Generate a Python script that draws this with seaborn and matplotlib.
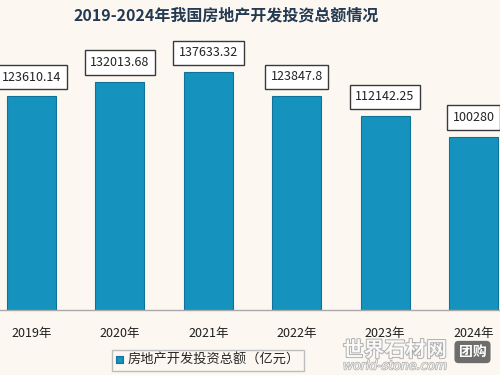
import matplotlib
matplotlib.use("Agg")
import matplotlib.pyplot as plt
import matplotlib.patheffects as pe
import seaborn as sns
import pandas as pd

years = ["2019年", "2020年", "2021年", "2022年", "2023年", "2024年"]
invest = [123610.14, 132013.68, 137633.32, 123847.8, 112142.25, 100280]
labels = ["123610.14", "132013.68", "137633.32", "123847.8", "112142.25", "100280"]
series_name = "房地产开发投资总额（亿元）"
title = "2019-2024年我国房地产开发投资总额情况"

sns.set_style("white")
plt.rcParams['font.family'] = ['Noto Sans CJK SC', 'DejaVu Sans']

bg = "#fcf8f1"
bar_col = "#1592bd"

df = pd.DataFrame({"year": years, "value": invest})

fig = plt.figure(figsize=(5, 3.75), dpi=100, facecolor=bg)
ax = fig.add_axes([0, 1 - 310 / 375, 1, 280 / 375])
ax.set_facecolor(bg)

sns.barplot(data=df, x="year", y="value", color=bar_col, saturation=1,
            width=0.554, edgecolor="#0f7298", linewidth=0.8, ax=ax,
            label=series_name, legend=False)

ax.set_xlim(-0.356, 5.30)
ax.set_ylim(0, 161840)

# value boxes on top of bars
ax.bar_label(ax.containers[0], labels=labels, padding=9, fontsize=9,
             color="#222222", fontweight="medium",
             bbox=dict(boxstyle="square,pad=0.45", fc="white", ec="#3a3a3a", lw=1.0))

ax.set_yticks([])
ax.set_xlabel("")
ax.set_ylabel("")
ax.tick_params(axis="x", length=0, pad=12, labelsize=9, labelcolor="#1e1e1e")
for t in ax.get_xticklabels():
    t.set_fontweight("medium")
for s in ["left", "right", "top"]:
    ax.spines[s].set_visible(False)
ax.spines["bottom"].set_color("#a8a8a8")
ax.spines["bottom"].set_linewidth(1.0)

fig.text(0.452, 1 - 15 / 375, title, ha="center", va="center",
         fontsize=11.5, fontweight="bold", color="#243a52")

handles, lbls = ax.get_legend_handles_labels()
fig.legend(handles, lbls, loc="upper left", bbox_to_anchor=(112 / 500, 1 - 350 / 375),
           fontsize=9.5, frameon=True, edgecolor="#bdbdbd", fancybox=False,
           handlelength=0.5, handleheight=0.5, handletextpad=0.4,
           borderpad=0.3, borderaxespad=0, facecolor=bg, framealpha=1)

# watermark
fig.text(0.79, 1 - 350 / 375, "世界石材网", ha="center", va="center", fontsize=15,
         fontweight="bold", color="white", alpha=0.85,
         path_effects=[pe.withStroke(linewidth=1.2, foreground="#9a9a9a")])
fig.text(0.79, 1 - 366 / 375, "world-stone.com", ha="center", va="center", fontsize=9,
         style="italic", color="white", alpha=0.85, family="DejaVu Sans",
         path_effects=[pe.withStroke(linewidth=1, foreground="#a0a0a0")])
fig.text(0.945, 1 - 352 / 375, "团购", ha="center", va="center", fontsize=10,
         fontweight="bold", color="white",
         bbox=dict(boxstyle="round,pad=0.3", fc="#4a4a4a", ec="none", alpha=0.8))

fig.savefig("out.png", dpi=100, facecolor=bg)
